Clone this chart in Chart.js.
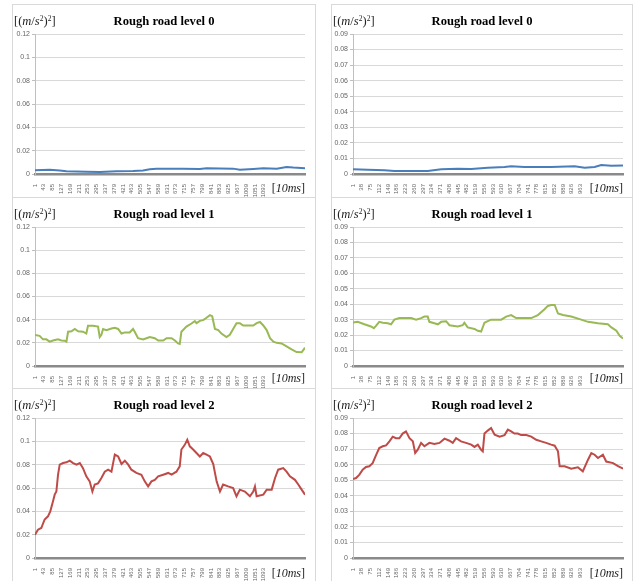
<!DOCTYPE html>
<html>
<head>
<meta charset="utf-8">
<script src="https://cdn.jsdelivr.net/npm/chart.js@4/dist/chart.umd.min.js"></script>
<style>
  html, body { margin: 0; padding: 0; background: #fff; width: 638px; height: 581px; overflow: hidden; }
  .panel { position: absolute; }
  .frame { position: absolute; left: 0; top: 0; right: 0; bottom: 0; border: 1px solid #d9d9d9; box-sizing: border-box; }
  .panel canvas { position: absolute; left: 0; top: 0; }
  .title { position: absolute; left: 0; right: 0; text-align: center; font: bold 12.6px "Liberation Serif", "Times New Roman", serif; color: #000; white-space: nowrap; }
  .unit { position: absolute; left: 2px; font: 12.5px "Liberation Serif", "Times New Roman", serif; color: #222; white-space: nowrap; }
  .unit sup { font-size: 0.6em; vertical-align: 0.55em; line-height: 0; }
  .xunit { position: absolute; font: 12px "Liberation Serif", "Times New Roman", serif; color: #222; white-space: nowrap; }
</style>
</head>
<body>
<script>
// Tick labels
const xTicksLeft = [1, 43, 85, 127, 169, 211, 253, 295, 337, 379, 421, 463, 505, 547, 589, 631, 673, 715, 757, 799, 841, 883, 925, 967, 1009, 1051, 1093];
const xTicksRight = [1, 38, 75, 112, 149, 186, 223, 260, 297, 334, 371, 408, 445, 482, 519, 556, 593, 630, 667, 704, 741, 778, 815, 852, 889, 926, 963];
const yTicksLeft = [0, 0.02, 0.04, 0.06, 0.08, 0.1, 0.12];
const yTicksRight = [0, 0.01, 0.02, 0.03, 0.04, 0.05, 0.06, 0.07, 0.08, 0.09];

// Sample counts of the two recordings
const lengthLeft = 1290;
const lengthRight = 1143;

// Series: [sample index, power value]
const level0Left = [[1,0.0032],[71,0.0037],[119,0.003],[151,0.0023],[246,0.002],[310,0.0017],[390,0.0023],[469,0.0026],[517,0.003],[549,0.004],[581,0.0046],[708,0.0046],[788,0.0043],[820,0.005],[947,0.0046],[979,0.0037],[1043,0.0043],[1091,0.0049],[1155,0.0046],[1202,0.006],[1234,0.0055],[1290,0.005]];

const level0Right = [[1,0.003],[63,0.0028],[134,0.0024],[176,0.0019],[275,0.0019],[317,0.0019],[374,0.003],[444,0.0034],[501,0.0032],[571,0.004],[642,0.0045],[670,0.005],[726,0.0045],[839,0.0045],[938,0.005],[981,0.004],[1023,0.0045],[1051,0.0058],[1094,0.0053],[1143,0.0055]];

const level1Left = [[1,0.0267],[23,0.026],[39,0.023],[55,0.023],[71,0.021],[87,0.022],[111,0.023],[127,0.022],[143,0.0218],[151,0.021],[159,0.0296],[175,0.030],[191,0.032],[207,0.030],[230,0.0296],[246,0.028],[254,0.0347],[278,0.0347],[302,0.034],[310,0.025],[318,0.027],[326,0.032],[342,0.031],[366,0.0324],[382,0.033],[398,0.032],[414,0.028],[430,0.029],[453,0.029],[469,0.032],[477,0.0296],[493,0.024],[517,0.023],[533,0.024],[549,0.025],[573,0.024],[589,0.022],[613,0.022],[629,0.024],[653,0.024],[669,0.022],[684,0.0195],[692,0.019],[700,0.0296],[724,0.034],[748,0.0367],[764,0.0387],[772,0.037],[788,0.039],[804,0.0396],[820,0.0416],[836,0.0439],[847,0.043],[860,0.032],[876,0.031],[891,0.028],[915,0.025],[931,0.027],[947,0.032],[963,0.037],[979,0.037],[995,0.035],[1019,0.035],[1043,0.035],[1059,0.037],[1075,0.038],[1091,0.035],[1107,0.031],[1123,0.024],[1139,0.021],[1155,0.020],[1178,0.0195],[1202,0.017],[1226,0.0143],[1250,0.012],[1274,0.0118],[1290,0.0158]];

const level1Right = [[1,0.0281],[21,0.0286],[49,0.027],[77,0.0256],[89,0.0245],[98,0.026],[112,0.0286],[127,0.028],[148,0.0277],[162,0.027],[176,0.030],[197,0.031],[218,0.031],[247,0.031],[268,0.030],[289,0.031],[303,0.032],[317,0.032],[324,0.0286],[345,0.0277],[360,0.027],[374,0.0286],[395,0.029],[409,0.0264],[444,0.0256],[465,0.0264],[472,0.028],[486,0.025],[515,0.024],[529,0.0228],[543,0.0223],[557,0.028],[571,0.029],[585,0.030],[607,0.030],[628,0.030],[649,0.032],[670,0.033],[691,0.031],[726,0.031],[755,0.031],[783,0.033],[811,0.0367],[825,0.0389],[839,0.0395],[854,0.0395],[868,0.034],[889,0.033],[924,0.032],[966,0.030],[995,0.0286],[1037,0.0277],[1079,0.027],[1094,0.025],[1115,0.0228],[1129,0.0196],[1143,0.0178]];

const level2Left = [[1,0.020],[15,0.0243],[31,0.0257],[47,0.033],[63,0.0357],[74,0.040],[87,0.0486],[95,0.0543],[103,0.057],[111,0.0714],[119,0.080],[135,0.0814],[151,0.082],[167,0.0834],[183,0.0814],[199,0.080],[215,0.0814],[230,0.077],[246,0.070],[262,0.0657],[275,0.057],[286,0.063],[302,0.064],[318,0.0686],[334,0.074],[350,0.0757],[366,0.074],[382,0.0886],[398,0.087],[414,0.0806],[430,0.0834],[446,0.080],[461,0.0757],[485,0.0729],[509,0.0714],[525,0.0657],[541,0.0614],[557,0.0657],[573,0.067],[589,0.070],[613,0.0714],[637,0.0729],[653,0.0714],[676,0.074],[692,0.0786],[700,0.093],[716,0.097],[728,0.1014],[740,0.0957],[756,0.093],[772,0.090],[788,0.087],[804,0.090],[820,0.0886],[836,0.087],[852,0.0806],[868,0.0657],[884,0.057],[899,0.063],[923,0.0614],[947,0.060],[963,0.0529],[979,0.0586],[1003,0.057],[1027,0.0529],[1043,0.057],[1051,0.0614],[1059,0.0529],[1091,0.0543],[1107,0.0586],[1131,0.0586],[1147,0.0686],[1162,0.0757],[1186,0.077],[1202,0.074],[1218,0.070],[1242,0.067],[1258,0.063],[1274,0.0586],[1290,0.0543]];

const level2Right = [[1,0.0508],[14,0.0514],[28,0.0536],[42,0.0568],[56,0.0585],[70,0.059],[84,0.061],[98,0.066],[112,0.0707],[127,0.0718],[141,0.0724],[155,0.075],[169,0.078],[183,0.077],[197,0.077],[211,0.080],[225,0.0814],[240,0.077],[254,0.075],[264,0.0675],[275,0.0696],[289,0.074],[303,0.0718],[324,0.074],[345,0.0733],[367,0.074],[388,0.0767],[409,0.0754],[423,0.074],[437,0.077],[458,0.075],[479,0.074],[501,0.0729],[515,0.0714],[529,0.0729],[543,0.0696],[550,0.0686],[557,0.080],[571,0.0819],[585,0.0836],[600,0.0793],[621,0.078],[642,0.079],[656,0.0825],[670,0.0814],[684,0.080],[698,0.080],[712,0.079],[734,0.079],[755,0.078],[776,0.076],[797,0.075],[818,0.074],[839,0.0729],[854,0.0722],[868,0.0686],[875,0.059],[896,0.059],[924,0.0574],[952,0.0583],[973,0.0557],[995,0.0632],[1009,0.0675],[1023,0.0664],[1037,0.0643],[1058,0.0664],[1072,0.062],[1101,0.061],[1122,0.059],[1143,0.0574]];

const titles = ['Rough road level 0', 'Rough road level 1', 'Rough road level 2'];
const colors = ['#4a7ebb', '#98b954', '#be4b48'];

// Panel frames: page position, size, plot-area box inside the frame
const rows = [
  { top: 4,   height: 194, plotTop: 30, plotBottom: 170, xunitTop: 177 },
  { top: 197, height: 192, plotTop: 30, plotBottom: 169, xunitTop: 174 },
  { top: 388, height: 200, plotTop: 30, plotBottom: 170, xunitTop: 178 }
];
const cols = [
  { left: 12,  width: 304, plotLeft: 23, plotRight: 293, xTicks: xTicksLeft,  yTicks: yTicksLeft,  yMax: 0.12, n: lengthLeft,
    series: [level0Left, level1Left, level2Left] },
  { left: 331, width: 302, plotLeft: 22, plotRight: 292, xTicks: xTicksRight, yTicks: yTicksRight, yMax: 0.09, n: lengthRight,
    series: [level0Right, level1Right, level2Right] }
];

function makePanel(row, col, level) {
  const wrap = document.createElement('div');
  wrap.className = 'panel';
  wrap.style.left = col.left + 'px';
  wrap.style.top = row.top + 'px';
  wrap.style.width = col.width + 'px';
  wrap.style.height = row.height + 'px';

  const frame = document.createElement('div');
  frame.className = 'frame';
  wrap.appendChild(frame);

  const canvas = document.createElement('canvas');
  canvas.width = col.width;
  canvas.height = row.height;
  wrap.appendChild(canvas);

  const title = document.createElement('div');
  title.className = 'title';
  title.style.top = '10px';
  title.textContent = titles[level];
  wrap.appendChild(title);

  const unit = document.createElement('div');
  unit.className = 'unit';
  unit.style.top = '10px';
  unit.innerHTML = '[(<i>m</i>/<i>s</i><sup>2</sup>)<sup>2</sup>]';
  wrap.appendChild(unit);

  const xunit = document.createElement('div');
  xunit.className = 'xunit';
  xunit.style.top = row.xunitTop + 'px';
  xunit.style.right = (col.width - col.plotRight) + 'px';
  xunit.innerHTML = '[<i>10ms</i>]';
  wrap.appendChild(xunit);

  document.body.appendChild(wrap);

  const points = col.series[level].map(p => ({ x: p[0], y: p[1] }));

  new Chart(canvas, {
    type: 'line',
    data: {
      datasets: [{
        data: points,
        borderColor: colors[level],
        borderWidth: 2,
        pointRadius: 0,
        tension: 0,
        fill: false
      }]
    },
    options: {
      responsive: false,
      animation: false,
      events: [],
      layout: { padding: { top: row.plotTop, right: col.width - col.plotRight, left: 0, bottom: 0 } },
      plugins: { legend: { display: false }, tooltip: { enabled: false }, title: { display: false } },
      scales: {
        x: {
          type: 'linear',
          min: 1,
          max: col.n,
          afterBuildTicks: s => { s.ticks = col.xTicks.map(v => ({ value: v })); },
          afterFit: s => { s.height = row.height - row.plotBottom; },
          grid: { display: false },
          border: { display: true, color: '#8a8a8a', width: 2.5 },
          ticks: {
            autoSkip: false,
            minRotation: 90,
            maxRotation: 90,
            padding: 2,
            color: '#666',
            font: { family: 'Liberation Sans', size: 6 },
            callback: v => String(v)
          }
        },
        y: {
          min: 0,
          max: col.yMax,
          afterBuildTicks: s => { s.ticks = col.yTicks.map(v => ({ value: v })); },
          afterFit: s => { s.width = col.plotLeft; },
          grid: {
            color: ctx => (ctx.tick && ctx.tick.value === 0) ? 'rgba(0,0,0,0)' : '#d9d9d9',
            tickColor: '#bfbfbf',
            tickLength: 3,
            lineWidth: 1
          },
          border: { display: true, color: '#bfbfbf', width: 1 },
          ticks: {
            padding: 2,
            color: '#666',
            font: { family: 'Liberation Sans', size: 7 },
            callback: v => String(v)
          }
        }
      }
    }
  });
}

rows.forEach((row, r) => cols.forEach(col => makePanel(row, col, r)));
</script>
</body>
</html>
